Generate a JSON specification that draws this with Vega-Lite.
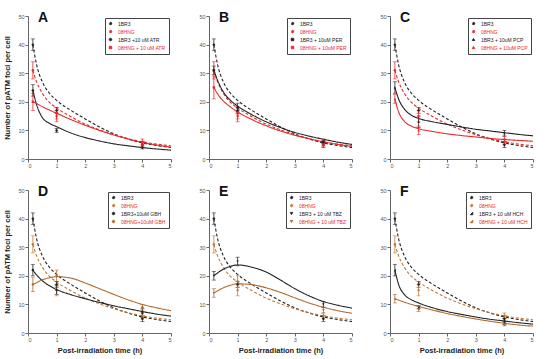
{
"$schema":"https://vega.github.io/schema/vega-lite/v6.json",
"padding":{"left":3,"top":11,"right":5,"bottom":2},
"config":{"view":{"stroke":null},"font":"Liberation Sans",
"axis":{"labelFontSize":5.5,"labelColor":"#555","domainColor":"#666","tickColor":"#666","tickSize":3,"labelPadding":1,"labelOverlap":false,"titleFontSize":7.5,"titleFontWeight":"bold","titleColor":"#222","grid":false,"domainWidth":1},
"legend":{"strokeColor":"#444","strokeWidth":1,"fillColor":"white"},
"title":{"anchor":"start","fontSize":14,"fontWeight":"bold","color":"#111","offset":-11,"dx":10,"baseline":"alphabetic","frame":"group"}},
"datasets":{
"curves":[
{"p":"ctrl","s":"1BR3","t":0.17,"y":40},{"p":"ctrl","s":"1BR3","t":0.3,"y":33},{"p":"ctrl","s":"1BR3","t":0.5,"y":27},{"p":"ctrl","s":"1BR3","t":0.75,"y":23},{"p":"ctrl","s":"1BR3","t":1,"y":20.5},{"p":"ctrl","s":"1BR3","t":1.5,"y":17},{"p":"ctrl","s":"1BR3","t":2,"y":14},{"p":"ctrl","s":"1BR3","t":2.5,"y":11.2},{"p":"ctrl","s":"1BR3","t":3,"y":8.8},{"p":"ctrl","s":"1BR3","t":3.5,"y":7},{"p":"ctrl","s":"1BR3","t":4,"y":5.6},{"p":"ctrl","s":"1BR3","t":4.5,"y":4.7},{"p":"ctrl","s":"1BR3","t":5,"y":4},
{"p":"ctrl","s":"08HNG","t":0.17,"y":31},{"p":"ctrl","s":"08HNG","t":0.3,"y":27},{"p":"ctrl","s":"08HNG","t":0.5,"y":23},{"p":"ctrl","s":"08HNG","t":0.75,"y":19.8},{"p":"ctrl","s":"08HNG","t":1,"y":17.8},{"p":"ctrl","s":"08HNG","t":1.5,"y":14.8},{"p":"ctrl","s":"08HNG","t":2,"y":12.2},{"p":"ctrl","s":"08HNG","t":2.5,"y":10.2},{"p":"ctrl","s":"08HNG","t":3,"y":8.5},{"p":"ctrl","s":"08HNG","t":3.5,"y":7.1},{"p":"ctrl","s":"08HNG","t":4,"y":6},{"p":"ctrl","s":"08HNG","t":4.5,"y":5.2},{"p":"ctrl","s":"08HNG","t":5,"y":4.6},
{"p":"A","s":"1BR3 +10 uM ATR","t":0.17,"y":24},{"p":"A","s":"1BR3 +10 uM ATR","t":0.3,"y":19},{"p":"A","s":"1BR3 +10 uM ATR","t":0.5,"y":14.5},{"p":"A","s":"1BR3 +10 uM ATR","t":0.75,"y":12.5},{"p":"A","s":"1BR3 +10 uM ATR","t":1,"y":11.3},{"p":"A","s":"1BR3 +10 uM ATR","t":1.5,"y":9.1},{"p":"A","s":"1BR3 +10 uM ATR","t":2,"y":7.5},{"p":"A","s":"1BR3 +10 uM ATR","t":2.5,"y":6.3},{"p":"A","s":"1BR3 +10 uM ATR","t":3,"y":5.3},{"p":"A","s":"1BR3 +10 uM ATR","t":3.5,"y":4.6},{"p":"A","s":"1BR3 +10 uM ATR","t":4,"y":4},{"p":"A","s":"1BR3 +10 uM ATR","t":4.5,"y":3.5},{"p":"A","s":"1BR3 +10 uM ATR","t":5,"y":3.1},
{"p":"A","s":"08HNG + 10 uM ATR","t":0.17,"y":20},{"p":"A","s":"08HNG + 10 uM ATR","t":0.3,"y":19.4},{"p":"A","s":"08HNG + 10 uM ATR","t":0.5,"y":18.3},{"p":"A","s":"08HNG + 10 uM ATR","t":0.75,"y":17.1},{"p":"A","s":"08HNG + 10 uM ATR","t":1,"y":16},{"p":"A","s":"08HNG + 10 uM ATR","t":1.5,"y":13.8},{"p":"A","s":"08HNG + 10 uM ATR","t":2,"y":11.8},{"p":"A","s":"08HNG + 10 uM ATR","t":2.5,"y":10},{"p":"A","s":"08HNG + 10 uM ATR","t":3,"y":8.4},{"p":"A","s":"08HNG + 10 uM ATR","t":3.5,"y":7},{"p":"A","s":"08HNG + 10 uM ATR","t":4,"y":5.8},{"p":"A","s":"08HNG + 10 uM ATR","t":4.5,"y":4.9},{"p":"A","s":"08HNG + 10 uM ATR","t":5,"y":4.1},
{"p":"B","s":"1BR3 + 10uM PER","t":0.17,"y":31},{"p":"B","s":"1BR3 + 10uM PER","t":0.3,"y":27.5},{"p":"B","s":"1BR3 + 10uM PER","t":0.5,"y":23.5},{"p":"B","s":"1BR3 + 10uM PER","t":0.75,"y":20.5},{"p":"B","s":"1BR3 + 10uM PER","t":1,"y":18.5},{"p":"B","s":"1BR3 + 10uM PER","t":1.5,"y":15.5},{"p":"B","s":"1BR3 + 10uM PER","t":2,"y":13},{"p":"B","s":"1BR3 + 10uM PER","t":2.5,"y":11},{"p":"B","s":"1BR3 + 10uM PER","t":3,"y":9.3},{"p":"B","s":"1BR3 + 10uM PER","t":3.5,"y":8},{"p":"B","s":"1BR3 + 10uM PER","t":4,"y":6.9},{"p":"B","s":"1BR3 + 10uM PER","t":4.5,"y":5.9},{"p":"B","s":"1BR3 + 10uM PER","t":5,"y":5.1},
{"p":"B","s":"08HNG + 10uM PER","t":0.17,"y":25},{"p":"B","s":"08HNG + 10uM PER","t":0.3,"y":22.8},{"p":"B","s":"08HNG + 10uM PER","t":0.5,"y":20.3},{"p":"B","s":"08HNG + 10uM PER","t":0.75,"y":18.2},{"p":"B","s":"08HNG + 10uM PER","t":1,"y":16.5},{"p":"B","s":"08HNG + 10uM PER","t":1.5,"y":13.8},{"p":"B","s":"08HNG + 10uM PER","t":2,"y":11.6},{"p":"B","s":"08HNG + 10uM PER","t":2.5,"y":9.8},{"p":"B","s":"08HNG + 10uM PER","t":3,"y":8.3},{"p":"B","s":"08HNG + 10uM PER","t":3.5,"y":7.1},{"p":"B","s":"08HNG + 10uM PER","t":4,"y":6},{"p":"B","s":"08HNG + 10uM PER","t":4.5,"y":5.1},{"p":"B","s":"08HNG + 10uM PER","t":5,"y":4.4},
{"p":"C","s":"1BR3 + 10uM PCP","t":0.17,"y":25},{"p":"C","s":"1BR3 + 10uM PCP","t":0.3,"y":21},{"p":"C","s":"1BR3 + 10uM PCP","t":0.5,"y":17.5},{"p":"C","s":"1BR3 + 10uM PCP","t":0.75,"y":15.3},{"p":"C","s":"1BR3 + 10uM PCP","t":1,"y":14.2},{"p":"C","s":"1BR3 + 10uM PCP","t":1.5,"y":13},{"p":"C","s":"1BR3 + 10uM PCP","t":2,"y":12.1},{"p":"C","s":"1BR3 + 10uM PCP","t":2.5,"y":11.2},{"p":"C","s":"1BR3 + 10uM PCP","t":3,"y":10.4},{"p":"C","s":"1BR3 + 10uM PCP","t":3.5,"y":9.8},{"p":"C","s":"1BR3 + 10uM PCP","t":4,"y":9.2},{"p":"C","s":"1BR3 + 10uM PCP","t":4.5,"y":8.6},{"p":"C","s":"1BR3 + 10uM PCP","t":5,"y":8.1},
{"p":"C","s":"08HNG + 10uM PCP","t":0.17,"y":21},{"p":"C","s":"08HNG + 10uM PCP","t":0.3,"y":16.5},{"p":"C","s":"08HNG + 10uM PCP","t":0.5,"y":13.2},{"p":"C","s":"08HNG + 10uM PCP","t":0.75,"y":11.5},{"p":"C","s":"08HNG + 10uM PCP","t":1,"y":10.6},{"p":"C","s":"08HNG + 10uM PCP","t":1.5,"y":9.6},{"p":"C","s":"08HNG + 10uM PCP","t":2,"y":8.8},{"p":"C","s":"08HNG + 10uM PCP","t":2.5,"y":8.2},{"p":"C","s":"08HNG + 10uM PCP","t":3,"y":7.7},{"p":"C","s":"08HNG + 10uM PCP","t":3.5,"y":7.2},{"p":"C","s":"08HNG + 10uM PCP","t":4,"y":6.8},{"p":"C","s":"08HNG + 10uM PCP","t":4.5,"y":6.5},{"p":"C","s":"08HNG + 10uM PCP","t":5,"y":6.2},
{"p":"D","s":"1BR3+10uM GBH","t":0.17,"y":22},{"p":"D","s":"1BR3+10uM GBH","t":0.3,"y":20.3},{"p":"D","s":"1BR3+10uM GBH","t":0.5,"y":18.3},{"p":"D","s":"1BR3+10uM GBH","t":0.75,"y":16.5},{"p":"D","s":"1BR3+10uM GBH","t":1,"y":15.2},{"p":"D","s":"1BR3+10uM GBH","t":1.5,"y":13.4},{"p":"D","s":"1BR3+10uM GBH","t":2,"y":12},{"p":"D","s":"1BR3+10uM GBH","t":2.5,"y":10.7},{"p":"D","s":"1BR3+10uM GBH","t":3,"y":9.5},{"p":"D","s":"1BR3+10uM GBH","t":3.5,"y":8.5},{"p":"D","s":"1BR3+10uM GBH","t":4,"y":7.5},{"p":"D","s":"1BR3+10uM GBH","t":4.5,"y":6.6},{"p":"D","s":"1BR3+10uM GBH","t":5,"y":5.9},
{"p":"D","s":"08HNG+10uM GBH","t":0.17,"y":17},{"p":"D","s":"08HNG+10uM GBH","t":0.3,"y":17.6},{"p":"D","s":"08HNG+10uM GBH","t":0.5,"y":18.6},{"p":"D","s":"08HNG+10uM GBH","t":0.75,"y":19.3},{"p":"D","s":"08HNG+10uM GBH","t":1,"y":19.7},{"p":"D","s":"08HNG+10uM GBH","t":1.5,"y":19.2},{"p":"D","s":"08HNG+10uM GBH","t":2,"y":17.5},{"p":"D","s":"08HNG+10uM GBH","t":2.5,"y":15.5},{"p":"D","s":"08HNG+10uM GBH","t":3,"y":13.5},{"p":"D","s":"08HNG+10uM GBH","t":3.5,"y":11.6},{"p":"D","s":"08HNG+10uM GBH","t":4,"y":10},{"p":"D","s":"08HNG+10uM GBH","t":4.5,"y":8.8},{"p":"D","s":"08HNG+10uM GBH","t":5,"y":7.8},
{"p":"E","s":"1BR3 + 10 uM TBZ","t":0.17,"y":20},{"p":"E","s":"1BR3 + 10 uM TBZ","t":0.3,"y":21},{"p":"E","s":"1BR3 + 10 uM TBZ","t":0.5,"y":22.3},{"p":"E","s":"1BR3 + 10 uM TBZ","t":0.75,"y":23.3},{"p":"E","s":"1BR3 + 10 uM TBZ","t":1,"y":23.8},{"p":"E","s":"1BR3 + 10 uM TBZ","t":1.5,"y":23},{"p":"E","s":"1BR3 + 10 uM TBZ","t":2,"y":21.3},{"p":"E","s":"1BR3 + 10 uM TBZ","t":2.5,"y":18.5},{"p":"E","s":"1BR3 + 10 uM TBZ","t":3,"y":15.5},{"p":"E","s":"1BR3 + 10 uM TBZ","t":3.5,"y":13},{"p":"E","s":"1BR3 + 10 uM TBZ","t":4,"y":11},{"p":"E","s":"1BR3 + 10 uM TBZ","t":4.5,"y":9.7},{"p":"E","s":"1BR3 + 10 uM TBZ","t":5,"y":8.7},
{"p":"E","s":"08HNG + 10 uM TBZ","t":0.17,"y":14},{"p":"E","s":"08HNG + 10 uM TBZ","t":0.3,"y":14.7},{"p":"E","s":"08HNG + 10 uM TBZ","t":0.5,"y":15.8},{"p":"E","s":"08HNG + 10 uM TBZ","t":0.75,"y":16.7},{"p":"E","s":"08HNG + 10 uM TBZ","t":1,"y":17.2},{"p":"E","s":"08HNG + 10 uM TBZ","t":1.5,"y":16.9},{"p":"E","s":"08HNG + 10 uM TBZ","t":2,"y":15.8},{"p":"E","s":"08HNG + 10 uM TBZ","t":2.5,"y":14.2},{"p":"E","s":"08HNG + 10 uM TBZ","t":3,"y":12.3},{"p":"E","s":"08HNG + 10 uM TBZ","t":3.5,"y":10.5},{"p":"E","s":"08HNG + 10 uM TBZ","t":4,"y":9},{"p":"E","s":"08HNG + 10 uM TBZ","t":4.5,"y":7.8},{"p":"E","s":"08HNG + 10 uM TBZ","t":5,"y":6.9},
{"p":"F","s":"1BR3 + 10 uM HCH","t":0.17,"y":22},{"p":"F","s":"1BR3 + 10 uM HCH","t":0.3,"y":17},{"p":"F","s":"1BR3 + 10 uM HCH","t":0.5,"y":13.5},{"p":"F","s":"1BR3 + 10 uM HCH","t":0.75,"y":11.6},{"p":"F","s":"1BR3 + 10 uM HCH","t":1,"y":10.5},{"p":"F","s":"1BR3 + 10 uM HCH","t":1.5,"y":8.8},{"p":"F","s":"1BR3 + 10 uM HCH","t":2,"y":7.5},{"p":"F","s":"1BR3 + 10 uM HCH","t":2.5,"y":6.5},{"p":"F","s":"1BR3 + 10 uM HCH","t":3,"y":5.6},{"p":"F","s":"1BR3 + 10 uM HCH","t":3.5,"y":4.8},{"p":"F","s":"1BR3 + 10 uM HCH","t":4,"y":4.2},{"p":"F","s":"1BR3 + 10 uM HCH","t":4.5,"y":3.6},{"p":"F","s":"1BR3 + 10 uM HCH","t":5,"y":3.1},
{"p":"F","s":"08HNG + 10 uM HCH","t":0.17,"y":12},{"p":"F","s":"08HNG + 10 uM HCH","t":0.3,"y":11.5},{"p":"F","s":"08HNG + 10 uM HCH","t":0.5,"y":10.8},{"p":"F","s":"08HNG + 10 uM HCH","t":0.75,"y":10},{"p":"F","s":"08HNG + 10 uM HCH","t":1,"y":9.3},{"p":"F","s":"08HNG + 10 uM HCH","t":1.5,"y":8},{"p":"F","s":"08HNG + 10 uM HCH","t":2,"y":6.8},{"p":"F","s":"08HNG + 10 uM HCH","t":2.5,"y":5.8},{"p":"F","s":"08HNG + 10 uM HCH","t":3,"y":4.9},{"p":"F","s":"08HNG + 10 uM HCH","t":3.5,"y":4.1},{"p":"F","s":"08HNG + 10 uM HCH","t":4,"y":3.4},{"p":"F","s":"08HNG + 10 uM HCH","t":4.5,"y":2.8},{"p":"F","s":"08HNG + 10 uM HCH","t":5,"y":2.4}
],
"pts":[
{"p":"ctrl","s":"1BR3","t":0.17,"y":40,"lo":38,"hi":42},{"p":"ctrl","s":"1BR3","t":1,"y":17,"lo":16,"hi":18},{"p":"ctrl","s":"1BR3","t":4,"y":5,"lo":4,"hi":6},
{"p":"ctrl","s":"08HNG","t":0.17,"y":31,"lo":28,"hi":34},{"p":"ctrl","s":"08HNG","t":1,"y":15,"lo":13,"hi":17},{"p":"ctrl","s":"08HNG","t":4,"y":6,"lo":5,"hi":7},
{"p":"A","s":"1BR3 +10 uM ATR","t":0.17,"y":24,"lo":22,"hi":26},{"p":"A","s":"1BR3 +10 uM ATR","t":1,"y":10,"lo":9.3,"hi":10.7},{"p":"A","s":"1BR3 +10 uM ATR","t":4,"y":4,"lo":3.5,"hi":4.5},
{"p":"A","s":"08HNG + 10 uM ATR","t":0.17,"y":20,"lo":17,"hi":23},{"p":"A","s":"08HNG + 10 uM ATR","t":1,"y":16,"lo":14,"hi":18},{"p":"A","s":"08HNG + 10 uM ATR","t":4,"y":5,"lo":4,"hi":6},
{"p":"B","s":"1BR3 + 10uM PER","t":0.17,"y":31,"lo":29.5,"hi":32.5},{"p":"B","s":"1BR3 + 10uM PER","t":1,"y":18,"lo":16.5,"hi":19.5},{"p":"B","s":"1BR3 + 10uM PER","t":4,"y":6,"lo":5.5,"hi":6.5},
{"p":"B","s":"08HNG + 10uM PER","t":0.17,"y":25,"lo":21,"hi":29},{"p":"B","s":"08HNG + 10uM PER","t":1,"y":16,"lo":14,"hi":18},{"p":"B","s":"08HNG + 10uM PER","t":4,"y":5,"lo":4.5,"hi":5.5},
{"p":"C","s":"1BR3 + 10uM PCP","t":0.17,"y":25,"lo":23,"hi":27},{"p":"C","s":"1BR3 + 10uM PCP","t":1,"y":13,"lo":11,"hi":15},{"p":"C","s":"1BR3 + 10uM PCP","t":4,"y":9,"lo":8,"hi":10},
{"p":"C","s":"08HNG + 10uM PCP","t":0.17,"y":21,"lo":19.5,"hi":22.5},{"p":"C","s":"08HNG + 10uM PCP","t":1,"y":10,"lo":8.5,"hi":11.5},{"p":"C","s":"08HNG + 10uM PCP","t":4,"y":7,"lo":6,"hi":8},
{"p":"D","s":"1BR3+10uM GBH","t":0.17,"y":22,"lo":20,"hi":24},{"p":"D","s":"1BR3+10uM GBH","t":1,"y":15,"lo":13.5,"hi":16.5},{"p":"D","s":"1BR3+10uM GBH","t":4,"y":7,"lo":5.5,"hi":8.5},
{"p":"D","s":"08HNG+10uM GBH","t":0.17,"y":17,"lo":14.5,"hi":19.5},{"p":"D","s":"08HNG+10uM GBH","t":1,"y":20,"lo":18,"hi":22},{"p":"D","s":"08HNG+10uM GBH","t":4,"y":9,"lo":8,"hi":10},
{"p":"E","s":"1BR3 + 10 uM TBZ","t":0.17,"y":20,"lo":18.5,"hi":21.5},{"p":"E","s":"1BR3 + 10 uM TBZ","t":1,"y":25,"lo":23.5,"hi":26.5},{"p":"E","s":"1BR3 + 10 uM TBZ","t":4,"y":10,"lo":9,"hi":11},
{"p":"E","s":"08HNG + 10 uM TBZ","t":0.17,"y":14,"lo":12.5,"hi":15.5},{"p":"E","s":"08HNG + 10 uM TBZ","t":1,"y":18,"lo":16,"hi":20},{"p":"E","s":"08HNG + 10 uM TBZ","t":4,"y":8,"lo":7,"hi":9},
{"p":"F","s":"1BR3 + 10 uM HCH","t":0.17,"y":22,"lo":20,"hi":24},{"p":"F","s":"1BR3 + 10 uM HCH","t":1,"y":9,"lo":8.5,"hi":9.5},{"p":"F","s":"1BR3 + 10 uM HCH","t":4,"y":4,"lo":3,"hi":5},
{"p":"F","s":"08HNG + 10 uM HCH","t":0.17,"y":12,"lo":10.5,"hi":13.5},{"p":"F","s":"08HNG + 10 uM HCH","t":1,"y":8.5,"lo":7.5,"hi":9.5},{"p":"F","s":"08HNG + 10 uM HCH","t":4,"y":3,"lo":2.5,"hi":3.5}
]},
"columns":3,
"spacing":{"row":31,"column":38},
"bounds":"flush",
"resolve":{"scale":{"color":"independent","strokeDash":"independent","shape":"independent","size":"independent"},"legend":{"color":"independent","strokeDash":"independent","shape":"independent","size":"independent"}},
"concat":[
{"width":143,"height":143,"title":"A",
"encoding":{
"x":{"field":"t","type":"quantitative","title":null,"scale":{"domain":[0,5]},"axis":{"values":[0,1,2,3,4,5],"labelOverlap":false}},
"y":{"field":"y","type":"quantitative","title":"Number of pATM foci per cell","scale":{"domain":[0,50]},"axis":{"values":[0,10,20,30,40,50],"labelOverlap":false,"titlePadding":6}},
"color":{"field":"s","type":"nominal","scale":{"domain":["1BR3","08HNG","1BR3 +10 uM ATR","08HNG + 10 uM ATR"],"range":["#222","#e8282b","#222","#e8282b"]},
 "legend":{"title":null,"orient":"top-right","offset":2,"padding":3,"strokeColor":"#444","fillColor":"white","labelFontSize":5,"labelLimit":90,"symbolSize":100,"rowPadding":1,"labelOffset":5,
 "encode":{
  "labels":{"update":{"fill":[{"test":"indexof(datum.label,'08HNG')>=0","value":"#e8282b"},{"value":"#222"}]}},
  "symbols":{"update":{
   "shape":[{"test":"datum.value=='1BR3'||datum.value=='08HNG'","value":"M-1.4,0H1.4M-0.25,0A0.25,0.25 0 1,0 0.25,0A0.25,0.25 0 1,0 -0.25,0Z"},{"test":"indexof(datum.value,'08HNG')>=0","value":"M-1.4,0H1.4M-0.4,-0.4H0.4V0.4H-0.4Z"},{"value":"M-1.4,0H1.4M-0.45,0A0.45,0.45 0 1,0 0.45,0A0.45,0.45 0 1,0 -0.45,0Z"}],
   "size":{"value":100},
   "fill":[{"test":"indexof(datum.value,'08HNG')>=0","value":"#e8282b"},{"value":"#222"}],
   "stroke":[{"test":"indexof(datum.value,'08HNG')>=0","value":"#e8282b"},{"value":"#222"}],
   "strokeWidth":{"value":1},
   "strokeDash":[{"test":"datum.value=='1BR3'||datum.value=='08HNG'","value":[2,1.5]},{"value":[1,0]}],
   "opacity":{"value":1}}}}}}
},
"layer":[
{"data":{"name":"curves"},"transform":[{"filter":"datum.p=='A'||datum.p=='ctrl'"}],"mark":{"type":"line","interpolate":"monotone","strokeWidth":1.1},
 "encoding":{"strokeDash":{"field":"s","type":"nominal","scale":{"domain":["1BR3","08HNG","1BR3 +10 uM ATR","08HNG + 10 uM ATR"],"range":[[3,2],[3,2],[1,0],[1,0]]},"legend":null}}},
{"data":{"name":"pts"},"transform":[{"filter":"datum.p=='A'||datum.p=='ctrl'"}],"mark":{"type":"errorbar","ticks":{"size":4},"thickness":0.8},
 "encoding":{"y":{"field":"lo","type":"quantitative","title":"Number of pATM foci per cell","scale":{"domain":[0,50]},"axis":{"values":[0,10,20,30,40,50],"labelOverlap":false,"titlePadding":6}},"y2":{"field":"hi"}}},
{"data":{"name":"pts"},"transform":[{"filter":"datum.p=='A'||datum.p=='ctrl'"}],"mark":{"type":"point","filled":true,"opacity":1},
 "encoding":{"shape":{"field":"s","type":"nominal","scale":{"domain":["1BR3","08HNG","1BR3 +10 uM ATR","08HNG + 10 uM ATR"],"range":["circle","circle","circle","square"]},"legend":null},
 "size":{"field":"s","type":"nominal","scale":{"domain":["1BR3","08HNG","1BR3 +10 uM ATR","08HNG + 10 uM ATR"],"range":[6,6,22,22]},"legend":null}}}
]},
{"width":143,"height":143,"title":"B",
"encoding":{
"x":{"field":"t","type":"quantitative","title":null,"scale":{"domain":[0,5]},"axis":{"values":[0,1,2,3,4,5],"labelOverlap":false}},
"y":{"field":"y","type":"quantitative","title":null,"scale":{"domain":[0,50]},"axis":{"values":[0,10,20,30,40,50],"labelOverlap":false}},
"color":{"field":"s","type":"nominal","scale":{"domain":["1BR3","08HNG","1BR3 + 10uM PER","08HNG + 10uM PER"],"range":["#222","#e8282b","#222","#e8282b"]},
 "legend":{"title":null,"orient":"top-right","offset":2,"padding":3,"strokeColor":"#444","fillColor":"white","labelFontSize":5,"labelLimit":90,"symbolSize":100,"rowPadding":1,"labelOffset":5,
 "encode":{
  "labels":{"update":{"fill":[{"test":"indexof(datum.label,'08HNG')>=0","value":"#e8282b"},{"value":"#222"}]}},
  "symbols":{"update":{
   "shape":[{"test":"datum.value=='1BR3'||datum.value=='08HNG'","value":"M-1.4,0H1.4M-0.25,0A0.25,0.25 0 1,0 0.25,0A0.25,0.25 0 1,0 -0.25,0Z"},{"value":"M-1.4,0H1.4M-0.4,-0.4H0.4V0.4H-0.4Z"}],
   "size":{"value":100},
   "fill":[{"test":"indexof(datum.value,'08HNG')>=0","value":"#e8282b"},{"value":"#222"}],
   "stroke":[{"test":"indexof(datum.value,'08HNG')>=0","value":"#e8282b"},{"value":"#222"}],
   "strokeWidth":{"value":1},
   "strokeDash":[{"test":"datum.value=='1BR3'||datum.value=='08HNG'","value":[2,1.5]},{"value":[1,0]}],
   "opacity":{"value":1}}}}}}
},
"layer":[
{"data":{"name":"curves"},"transform":[{"filter":"datum.p=='B'||datum.p=='ctrl'"}],"mark":{"type":"line","interpolate":"monotone","strokeWidth":1.1},
 "encoding":{"strokeDash":{"field":"s","type":"nominal","scale":{"domain":["1BR3","08HNG","1BR3 + 10uM PER","08HNG + 10uM PER"],"range":[[3,2],[3,2],[1,0],[1,0]]},"legend":null}}},
{"data":{"name":"pts"},"transform":[{"filter":"datum.p=='B'||datum.p=='ctrl'"}],"mark":{"type":"errorbar","ticks":{"size":4},"thickness":0.8},
 "encoding":{"y":{"field":"lo","type":"quantitative","title":null,"scale":{"domain":[0,50]},"axis":{"values":[0,10,20,30,40,50],"labelOverlap":false}},"y2":{"field":"hi"}}},
{"data":{"name":"pts"},"transform":[{"filter":"datum.p=='B'||datum.p=='ctrl'"}],"mark":{"type":"point","filled":true,"opacity":1},
 "encoding":{"shape":{"field":"s","type":"nominal","scale":{"domain":["1BR3","08HNG","1BR3 + 10uM PER","08HNG + 10uM PER"],"range":["circle","circle","square","square"]},"legend":null},
 "size":{"field":"s","type":"nominal","scale":{"domain":["1BR3","08HNG","1BR3 + 10uM PER","08HNG + 10uM PER"],"range":[6,6,22,22]},"legend":null}}}
]},
{"width":143,"height":143,"title":"C",
"encoding":{
"x":{"field":"t","type":"quantitative","title":null,"scale":{"domain":[0,5]},"axis":{"values":[0,1,2,3,4,5],"labelOverlap":false}},
"y":{"field":"y","type":"quantitative","title":null,"scale":{"domain":[0,50]},"axis":{"values":[0,10,20,30,40,50],"labelOverlap":false}},
"color":{"field":"s","type":"nominal","scale":{"domain":["1BR3","08HNG","1BR3 + 10uM PCP","08HNG + 10uM PCP"],"range":["#222","#e8282b","#222","#e8282b"]},
 "legend":{"title":null,"orient":"top-right","offset":2,"padding":3,"strokeColor":"#444","fillColor":"white","labelFontSize":5,"labelLimit":90,"symbolSize":100,"rowPadding":1,"labelOffset":5,
 "encode":{
  "labels":{"update":{"fill":[{"test":"indexof(datum.label,'08HNG')>=0","value":"#e8282b"},{"value":"#222"}]}},
  "symbols":{"update":{
   "shape":[{"test":"datum.value=='1BR3'||datum.value=='08HNG'","value":"M-1.4,0H1.4M-0.25,0A0.25,0.25 0 1,0 0.25,0A0.25,0.25 0 1,0 -0.25,0Z"},{"value":"M-1.4,0H1.4M0,-0.5L0.5,0.4H-0.5Z"}],
   "size":{"value":100},
   "fill":[{"test":"indexof(datum.value,'08HNG')>=0","value":"#e8282b"},{"value":"#222"}],
   "stroke":[{"test":"indexof(datum.value,'08HNG')>=0","value":"#e8282b"},{"value":"#222"}],
   "strokeWidth":{"value":1},
   "strokeDash":[{"test":"datum.value=='1BR3'||datum.value=='08HNG'","value":[2,1.5]},{"value":[1,0]}],
   "opacity":{"value":1}}}}}}
},
"layer":[
{"data":{"name":"curves"},"transform":[{"filter":"datum.p=='C'||datum.p=='ctrl'"}],"mark":{"type":"line","interpolate":"monotone","strokeWidth":1.1},
 "encoding":{"strokeDash":{"field":"s","type":"nominal","scale":{"domain":["1BR3","08HNG","1BR3 + 10uM PCP","08HNG + 10uM PCP"],"range":[[3,2],[3,2],[1,0],[1,0]]},"legend":null}}},
{"data":{"name":"pts"},"transform":[{"filter":"datum.p=='C'||datum.p=='ctrl'"}],"mark":{"type":"errorbar","ticks":{"size":4},"thickness":0.8},
 "encoding":{"y":{"field":"lo","type":"quantitative","title":null,"scale":{"domain":[0,50]},"axis":{"values":[0,10,20,30,40,50],"labelOverlap":false}},"y2":{"field":"hi"}}},
{"data":{"name":"pts"},"transform":[{"filter":"datum.p=='C'||datum.p=='ctrl'"}],"mark":{"type":"point","filled":true,"opacity":1},
 "encoding":{"shape":{"field":"s","type":"nominal","scale":{"domain":["1BR3","08HNG","1BR3 + 10uM PCP","08HNG + 10uM PCP"],"range":["circle","circle","triangle-up","triangle-up"]},"legend":null},
 "size":{"field":"s","type":"nominal","scale":{"domain":["1BR3","08HNG","1BR3 + 10uM PCP","08HNG + 10uM PCP"],"range":[6,6,22,22]},"legend":null}}}
]},
{"width":143,"height":143,"title":"D",
"encoding":{
"x":{"field":"t","type":"quantitative","title":"Post-irradiation time (h)","scale":{"domain":[0,5]},"axis":{"values":[0,1,2,3,4,5],"labelOverlap":false,"titlePadding":4}},
"y":{"field":"y","type":"quantitative","title":"Number of pATM foci per cell","scale":{"domain":[0,50]},"axis":{"values":[0,10,20,30,40,50],"labelOverlap":false,"titlePadding":6}},
"color":{"field":"s","type":"nominal","scale":{"domain":["1BR3","08HNG","1BR3+10uM GBH","08HNG+10uM GBH"],"range":["#222","#c07a3a","#222","#b06a30"]},
 "legend":{"title":null,"orient":"top-right","offset":2,"padding":3,"strokeColor":"#444","fillColor":"white","labelFontSize":5,"labelLimit":90,"symbolSize":100,"rowPadding":1,"labelOffset":5,
 "encode":{
  "labels":{"update":{"fill":[{"test":"indexof(datum.label,'08HNG')>=0","value":"#e8282b"},{"value":"#222"}]}},
  "symbols":{"update":{
   "shape":[{"test":"datum.value=='1BR3'||datum.value=='08HNG'","value":"M-1.4,0H1.4M-0.25,0A0.25,0.25 0 1,0 0.25,0A0.25,0.25 0 1,0 -0.25,0Z"},{"value":"M-1.4,0H1.4M-0.45,0A0.45,0.45 0 1,0 0.45,0A0.45,0.45 0 1,0 -0.45,0Z"}],
   "size":{"value":100},
   "fill":[{"test":"indexof(datum.value,'08HNG')>=0","value":"#b06a30"},{"value":"#222"}],
   "stroke":[{"test":"indexof(datum.value,'08HNG')>=0","value":"#b06a30"},{"value":"#222"}],
   "strokeWidth":{"value":1},
   "strokeDash":[{"test":"datum.value=='1BR3'||datum.value=='08HNG'","value":[2,1.5]},{"value":[1,0]}],
   "opacity":{"value":1}}}}}}
},
"layer":[
{"data":{"name":"curves"},"transform":[{"filter":"datum.p=='D'||datum.p=='ctrl'"}],"mark":{"type":"line","interpolate":"monotone","strokeWidth":1.1},
 "encoding":{"strokeDash":{"field":"s","type":"nominal","scale":{"domain":["1BR3","08HNG","1BR3+10uM GBH","08HNG+10uM GBH"],"range":[[3,2],[3,2],[1,0],[1,0]]},"legend":null}}},
{"data":{"name":"pts"},"transform":[{"filter":"datum.p=='D'||datum.p=='ctrl'"}],"mark":{"type":"errorbar","ticks":{"size":4},"thickness":0.8},
 "encoding":{"y":{"field":"lo","type":"quantitative","title":"Number of pATM foci per cell","scale":{"domain":[0,50]},"axis":{"values":[0,10,20,30,40,50],"labelOverlap":false,"titlePadding":6}},"y2":{"field":"hi"}}},
{"data":{"name":"pts"},"transform":[{"filter":"datum.p=='D'||datum.p=='ctrl'"}],"mark":{"type":"point","filled":true,"opacity":1},
 "encoding":{"shape":{"field":"s","type":"nominal","scale":{"domain":["1BR3","08HNG","1BR3+10uM GBH","08HNG+10uM GBH"],"range":["circle","circle","circle","circle"]},"legend":null},
 "size":{"field":"s","type":"nominal","scale":{"domain":["1BR3","08HNG","1BR3+10uM GBH","08HNG+10uM GBH"],"range":[6,6,22,22]},"legend":null}}}
]},
{"width":143,"height":143,"title":"E",
"encoding":{
"x":{"field":"t","type":"quantitative","title":"Post-irradiation time (h)","scale":{"domain":[0,5]},"axis":{"values":[0,1,2,3,4,5],"labelOverlap":false,"titlePadding":4}},
"y":{"field":"y","type":"quantitative","title":null,"scale":{"domain":[0,50]},"axis":{"values":[0,10,20,30,40,50],"labelOverlap":false}},
"color":{"field":"s","type":"nominal","scale":{"domain":["1BR3","08HNG","1BR3 + 10 uM TBZ","08HNG + 10 uM TBZ"],"range":["#222","#c07a3a","#222","#b06a30"]},
 "legend":{"title":null,"orient":"top-right","offset":2,"padding":3,"strokeColor":"#444","fillColor":"white","labelFontSize":5,"labelLimit":90,"symbolSize":100,"rowPadding":1,"labelOffset":5,
 "encode":{
  "labels":{"update":{"fill":[{"test":"indexof(datum.label,'08HNG')>=0","value":"#e8282b"},{"value":"#222"}]}},
  "symbols":{"update":{
   "shape":[{"test":"datum.value=='1BR3'||datum.value=='08HNG'","value":"M-1.4,0H1.4M-0.25,0A0.25,0.25 0 1,0 0.25,0A0.25,0.25 0 1,0 -0.25,0Z"},{"value":"M-1.4,0H1.4M0,0.5L0.5,-0.4H-0.5Z"}],
   "size":{"value":100},
   "fill":[{"test":"indexof(datum.value,'08HNG')>=0","value":"#b06a30"},{"value":"#222"}],
   "stroke":[{"test":"indexof(datum.value,'08HNG')>=0","value":"#b06a30"},{"value":"#222"}],
   "strokeWidth":{"value":1},
   "strokeDash":[{"test":"datum.value=='1BR3'||datum.value=='08HNG'","value":[2,1.5]},{"value":[1,0]}],
   "opacity":{"value":1}}}}}}
},
"layer":[
{"data":{"name":"curves"},"transform":[{"filter":"datum.p=='E'||datum.p=='ctrl'"}],"mark":{"type":"line","interpolate":"monotone","strokeWidth":1.1},
 "encoding":{"strokeDash":{"field":"s","type":"nominal","scale":{"domain":["1BR3","08HNG","1BR3 + 10 uM TBZ","08HNG + 10 uM TBZ"],"range":[[3,2],[3,2],[1,0],[1,0]]},"legend":null}}},
{"data":{"name":"pts"},"transform":[{"filter":"datum.p=='E'||datum.p=='ctrl'"}],"mark":{"type":"errorbar","ticks":{"size":4},"thickness":0.8},
 "encoding":{"y":{"field":"lo","type":"quantitative","title":null,"scale":{"domain":[0,50]},"axis":{"values":[0,10,20,30,40,50],"labelOverlap":false}},"y2":{"field":"hi"}}},
{"data":{"name":"pts"},"transform":[{"filter":"datum.p=='E'||datum.p=='ctrl'"}],"mark":{"type":"point","filled":true,"opacity":1},
 "encoding":{"shape":{"field":"s","type":"nominal","scale":{"domain":["1BR3","08HNG","1BR3 + 10 uM TBZ","08HNG + 10 uM TBZ"],"range":["circle","circle","triangle-down","triangle-down"]},"legend":null},
 "size":{"field":"s","type":"nominal","scale":{"domain":["1BR3","08HNG","1BR3 + 10 uM TBZ","08HNG + 10 uM TBZ"],"range":[6,6,22,22]},"legend":null}}}
]},
{"width":143,"height":143,"title":"F",
"encoding":{
"x":{"field":"t","type":"quantitative","title":"Post-irradiation time (h)","scale":{"domain":[0,5]},"axis":{"values":[0,1,2,3,4,5],"labelOverlap":false,"titlePadding":4}},
"y":{"field":"y","type":"quantitative","title":null,"scale":{"domain":[0,50]},"axis":{"values":[0,10,20,30,40,50],"labelOverlap":false}},
"color":{"field":"s","type":"nominal","scale":{"domain":["1BR3","08HNG","1BR3 + 10 uM HCH","08HNG + 10 uM HCH"],"range":["#222","#c07a3a","#222","#b06a30"]},
 "legend":{"title":null,"orient":"top-right","offset":2,"padding":3,"strokeColor":"#444","fillColor":"white","labelFontSize":5,"labelLimit":90,"symbolSize":100,"rowPadding":1,"labelOffset":5,
 "encode":{
  "labels":{"update":{"fill":[{"test":"indexof(datum.label,'08HNG')>=0","value":"#e8282b"},{"value":"#222"}]}},
  "symbols":{"update":{
   "shape":[{"test":"datum.value=='1BR3'||datum.value=='08HNG'","value":"M-1.4,0H1.4M-0.25,0A0.25,0.25 0 1,0 0.25,0A0.25,0.25 0 1,0 -0.25,0Z"},{"value":"M-1.4,0H1.4M-0.45,0.4H0.45V-0.5Z"}],
   "size":{"value":100},
   "fill":[{"test":"indexof(datum.value,'08HNG')>=0","value":"#b06a30"},{"value":"#222"}],
   "stroke":[{"test":"indexof(datum.value,'08HNG')>=0","value":"#b06a30"},{"value":"#222"}],
   "strokeWidth":{"value":1},
   "strokeDash":[{"test":"datum.value=='1BR3'||datum.value=='08HNG'","value":[2,1.5]},{"value":[1,0]}],
   "opacity":{"value":1}}}}}}
},
"layer":[
{"data":{"name":"curves"},"transform":[{"filter":"datum.p=='F'||datum.p=='ctrl'"}],"mark":{"type":"line","interpolate":"monotone","strokeWidth":1.1},
 "encoding":{"strokeDash":{"field":"s","type":"nominal","scale":{"domain":["1BR3","08HNG","1BR3 + 10 uM HCH","08HNG + 10 uM HCH"],"range":[[3,2],[3,2],[1,0],[1,0]]},"legend":null}}},
{"data":{"name":"pts"},"transform":[{"filter":"datum.p=='F'||datum.p=='ctrl'"}],"mark":{"type":"errorbar","ticks":{"size":4},"thickness":0.8},
 "encoding":{"y":{"field":"lo","type":"quantitative","title":null,"scale":{"domain":[0,50]},"axis":{"values":[0,10,20,30,40,50],"labelOverlap":false}},"y2":{"field":"hi"}}},
{"data":{"name":"pts"},"transform":[{"filter":"datum.p=='F'||datum.p=='ctrl'"}],"mark":{"type":"point","filled":true,"opacity":1},
 "encoding":{"shape":{"field":"s","type":"nominal","scale":{"domain":["1BR3","08HNG","1BR3 + 10 uM HCH","08HNG + 10 uM HCH"],"range":["circle","circle","M-1,1L1,1L1,-1Z","M-1,1L1,1L1,-1Z"]},"legend":null},
 "size":{"field":"s","type":"nominal","scale":{"domain":["1BR3","08HNG","1BR3 + 10 uM HCH","08HNG + 10 uM HCH"],"range":[6,6,22,22]},"legend":null}}}
]}
]
}
